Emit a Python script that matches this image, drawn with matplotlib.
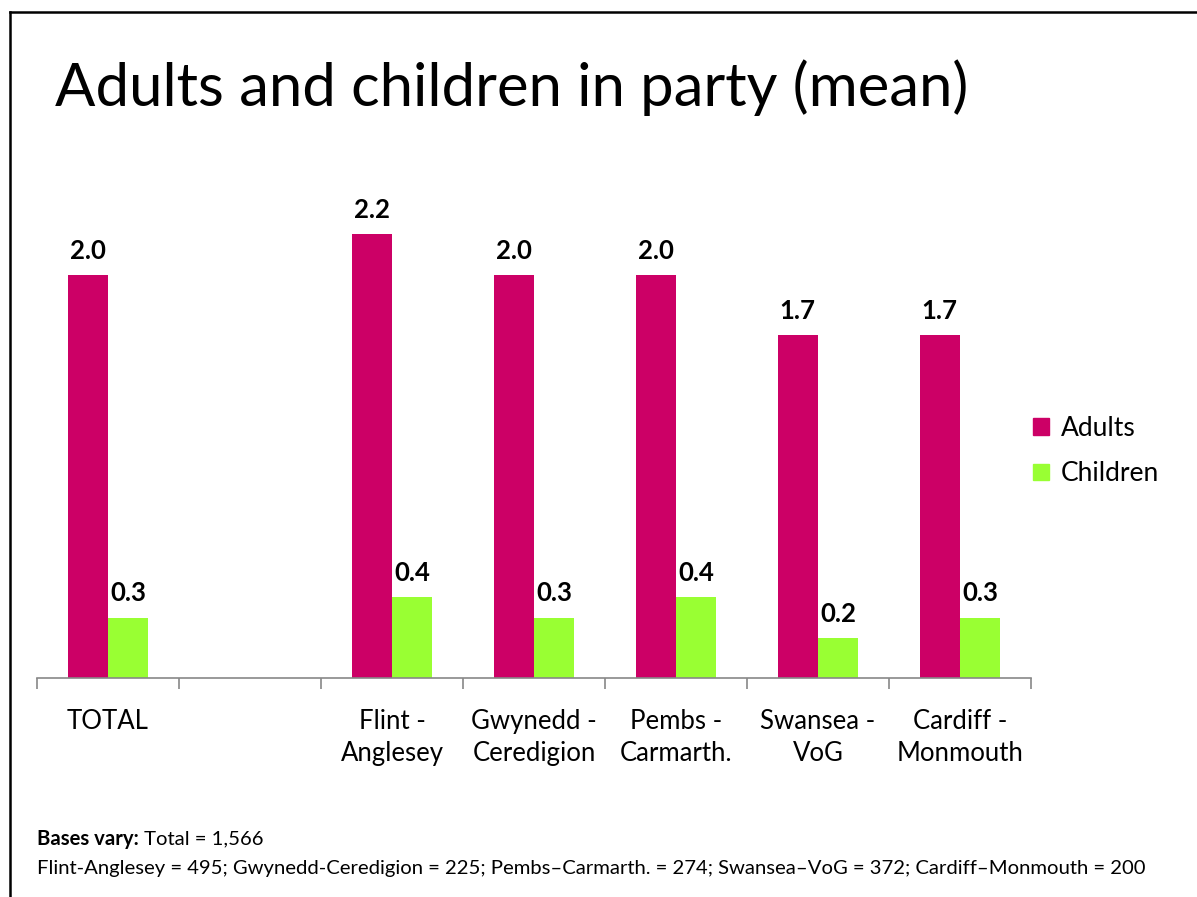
import numpy as np
import matplotlib
matplotlib.use("Agg")
import matplotlib.pyplot as plt
from matplotlib.lines import Line2D
from matplotlib.patches import Patch

categories = ["TOTAL", "", "Flint -\nAnglesey", "Gwynedd -\nCeredigion",
              "Pembs -\nCarmarth.", "Swansea -\nVoG", "Cardiff -\nMonmouth"]
adults = [2.0, np.nan, 2.2, 2.0, 2.0, 1.7, 1.7]
children = [0.3, np.nan, 0.4, 0.3, 0.4, 0.2, 0.3]
series_names = ["Adults", "Children"]
title = "Adults and children in party (mean)"
note_bold = "Bases vary:"
note_rest = " Total = 1,566"
note_line2 = "Flint-Anglesey = 495; Gwynedd-Ceredigion = 225; Pembs\u2013Carmarth. = 274; Swansea\u2013VoG = 372; Cardiff\u2013Monmouth = 200"

ADULT_C = "#CC0066"
CHILD_C = "#99FF33"
FONT = ["Lato", "DejaVu Sans"]
plt.rcParams["font.family"] = FONT

W, H = 1197, 897
fig = plt.figure(figsize=(W / 100, H / 100), dpi=100)

def px(x0, y0, x1, y1):
    return [x0 / W, 1 - y1 / H, (x1 - x0) / W, (y1 - y0) / H]

ax = fig.add_axes(px(37, 174, 1031, 678))
x = np.arange(len(categories))
bw = 0.285
b1 = ax.bar(x - bw / 2, adults, bw, color=ADULT_C, label=series_names[0])
b2 = ax.bar(x + bw / 2, children, bw, color=CHILD_C, label=series_names[1])
for bars, vals in ((b1, adults), (b2, children)):
    for r, v in zip(bars, vals):
        if np.isnan(v):
            continue
        ax.text(r.get_x() + r.get_width() / 2, v + 0.06, f"{v:.1f}",
                ha="center", va="bottom", fontsize=18.5, fontweight="bold")

ax.set_xlim(-0.5, len(categories) - 0.5)
ax.set_ylim(0, 2.5)
ax.set_yticks([])
for s in ("top", "right", "left"):
    ax.spines[s].set_visible(False)
ax.spines["bottom"].set_color("#888888")
ax.spines["bottom"].set_linewidth(1.2)
ax.set_xticks(x)
ax.set_xticklabels(categories, fontsize=18.5, linespacing=1.35)
ax.tick_params(axis="x", which="major", length=0, pad=22)
ax.set_xticks(np.arange(len(categories) + 1) - 0.5, minor=True)
ax.tick_params(axis="x", which="minor", length=8, color="#888888", width=1.2)

leg = fig.legend(handles=[Patch(color=ADULT_C, label=series_names[0]),
                          Patch(color=CHILD_C, label=series_names[1])],
                 loc="center left", bbox_to_anchor=(1033 / W, 1 - 451 / H),
                 frameon=False, fontsize=19, handlelength=0.6, handleheight=0.6,
                 handletextpad=0.45, labelspacing=0.78, borderpad=0,
                 borderaxespad=0)

fig.text(55 / W, 1 - 88 / H, title, fontsize=43, va="center", ha="left")

NF = 14.6
t1 = fig.text(37 / W, 1 - 839 / H, note_bold, fontsize=NF, fontweight="bold",
              va="center", ha="left")
fig.canvas.draw()
bb = t1.get_window_extent(fig.canvas.get_renderer())
fig.text(bb.x1 / W, 1 - 839 / H, note_rest, fontsize=NF, va="center", ha="left")
fig.text(37 / W, 1 - 868 / H, note_line2, fontsize=NF, va="center", ha="left")

fig.add_artist(Line2D([10 / W, 10 / W], [0, 1 - 12 / H], color="black", lw=1.8,
                      transform=fig.transFigure))
fig.add_artist(Line2D([10 / W, 1], [1 - 12 / H, 1 - 12 / H], color="black", lw=1.8,
                      transform=fig.transFigure))

fig.savefig("out.png", dpi=100)
